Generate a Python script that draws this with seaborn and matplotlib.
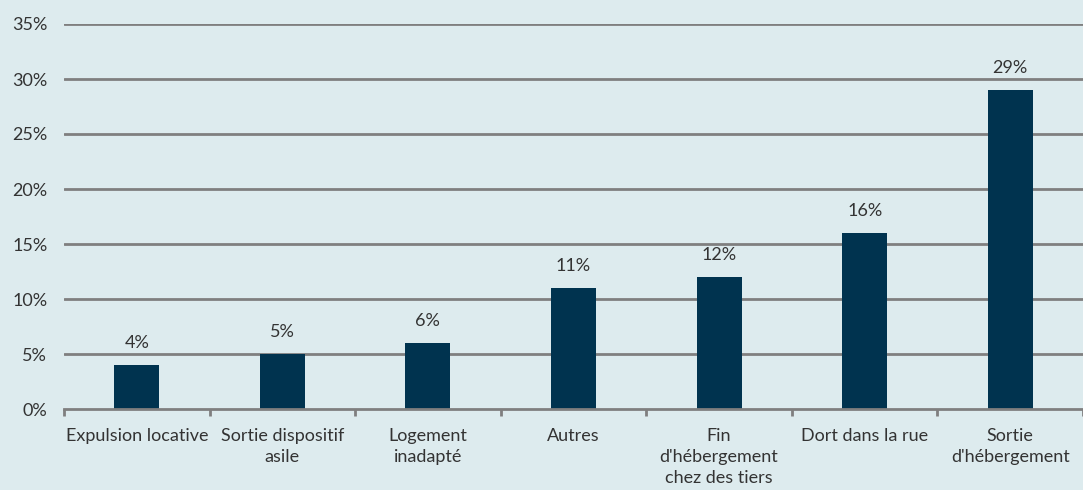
import matplotlib
matplotlib.use("Agg")
import matplotlib.pyplot as plt
import seaborn as sns
import pandas as pd
import numpy as np
from matplotlib.ticker import FixedLocator

categories = ["Expulsion locative", "Sortie dispositif\nasile", "Logement\ninadapté",
              "Autres", "Fin\nd'hébergement\nchez des tiers", "Dort dans la rue",
              "Sortie\nd'hébergement"]
values = [4, 5, 6, 11, 12, 16, 29]
value_labels = ["4%", "5%", "6%", "11%", "12%", "16%", "29%"]
y_ticks = [0, 5, 10, 15, 20, 25, 30, 35]

bg = "#DDEBEE"
bar_color = "#00334F"
grid_color = "#7F7F7F"
text_color = "#333333"

sns.set_theme(style="white")
plt.rcParams['font.family'] = ['Lato', 'DejaVu Sans']

df = pd.DataFrame({"cat": categories, "val": values})

fig = plt.figure(figsize=(10.83, 4.9), dpi=100)
fig.patch.set_facecolor(bg)
ax = fig.add_axes([64/1083, 1-409/490, 1-64/1083, (409-24)/490])
ax.set_facecolor(bg)

sns.barplot(data=df, x="cat", y="val", color=bar_color, width=0.31, ax=ax,
            saturation=1, zorder=3, linewidth=0, edgecolor=bar_color)

ax.set_ylim(0, 35)
ax.set_xlim(-0.5, len(categories) - 0.5)
ax.set_yticks(y_ticks)
ax.set_yticklabels([f"{t}%" for t in y_ticks])
for t in y_ticks[1:]:
    ax.axhline(t, color=grid_color, lw=2.0, zorder=1)

for s in ["top", "right", "left"]:
    ax.spines[s].set_visible(False)
ax.spines["bottom"].set_color(grid_color)
ax.spines["bottom"].set_linewidth(2.0)
ax.spines["bottom"].set_zorder(4)

fs = 13
ax.set_xlabel("")
ax.set_ylabel("")
ax.tick_params(axis="y", length=0, pad=12, labelsize=fs, labelcolor=text_color)
ax.tick_params(axis="x", which="major", length=0, pad=14, labelsize=fs,
               labelcolor=text_color)
ax.xaxis.set_minor_locator(FixedLocator(np.arange(-0.5, len(categories) - 0.4, 1)))
ax.tick_params(axis="x", which="minor", bottom=True, length=5, width=2.0,
               color=grid_color, direction="out")
for lbl in ax.get_xticklabels():
    lbl.set_linespacing(1.35)

for i, (v, lab) in enumerate(zip(values, value_labels)):
    ax.annotate(lab, (i, v), xytext=(0, 10), textcoords="offset points",
                ha="center", va="bottom", fontsize=fs, color=text_color)

fig.savefig("out.png", dpi=100, facecolor=bg)
